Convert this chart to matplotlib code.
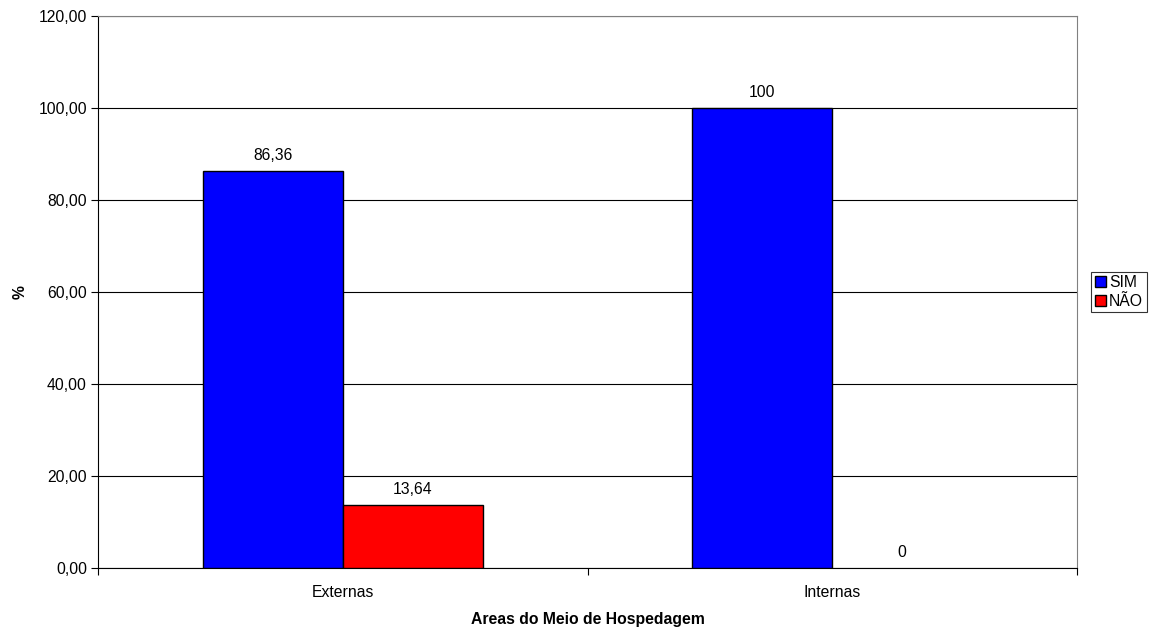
import matplotlib
matplotlib.use('Agg')
import matplotlib.pyplot as plt
import numpy as np

plt.rcParams['font.family'] = ['Liberation Sans', 'DejaVu Sans']

# data
categorias = ['Externas', 'Internas']
sim = [86.36, 100]
nao = [13.64, 0]
rotulos_sim = ['86,36', '100']
rotulos_nao = ['13,64', '0']
yticks = [0, 20, 40, 60, 80, 100, 120]

fs = 11.3

fig = plt.figure(figsize=(11.49, 6.31), dpi=100)
ax = fig.add_axes([98 / 1149, 1 - 568 / 631, (1077 - 98) / 1149, (568 - 16) / 631])

x = np.arange(len(categorias)) + 0.5
w = 0.286

b1 = ax.bar(x - w / 2, sim, w, color='#0000ff', edgecolor='black', linewidth=1, label='SIM', zorder=3)
b2 = ax.bar(x + w / 2, nao, w, color='#ff0000', edgecolor='black', linewidth=1, label='NÃO', zorder=3)

# empty bars get no outline
for rect in list(b1) + list(b2):
    if rect.get_height() == 0:
        rect.set_linewidth(0)

# value labels above bars
for rect, txt in zip(b1, rotulos_sim):
    ax.text(rect.get_x() + rect.get_width() / 2, rect.get_height() + 1.7, txt,
            ha='center', va='bottom', fontsize=fs)
for rect, txt in zip(b2, rotulos_nao):
    ax.text(rect.get_x() + rect.get_width() / 2, rect.get_height() + 1.7, txt,
            ha='center', va='bottom', fontsize=fs)

ax.set_xlim(0, 2)
ax.set_ylim(0, 120)
ax.set_yticks(yticks)
ax.set_yticklabels(['%d,00' % v for v in yticks], fontsize=fs)
ax.yaxis.grid(True, color='black', linewidth=0.8, zorder=0)
ax.set_axisbelow(True)

# category boundaries carry the ticks, names sit in the middle
ax.set_xticks([0, 1, 2])
ax.set_xticklabels([])
ax.set_xticks(x, minor=True)
ax.set_xticklabels(categorias, minor=True, fontsize=fs)
ax.tick_params(axis='x', which='minor', length=0, pad=12)
ax.tick_params(axis='x', which='major', length=5, direction='out')
ax.tick_params(axis='y', length=5, direction='out', pad=3)

ax.spines['left'].set_color('black')
ax.spines['bottom'].set_color('black')
ax.spines['top'].set_color('#808080')
ax.spines['right'].set_color('#808080')

ax.set_xlabel('Areas do Meio de Hospedagem', fontsize=fs, fontweight='bold', labelpad=9)
ax.set_ylabel('%', fontsize=fs, fontweight='bold', labelpad=8)

leg = ax.legend(loc='center left', bbox_to_anchor=(1.0143, 0.5), fontsize=fs,
                frameon=True, fancybox=False, edgecolor='black',
                handlelength=0.7, handleheight=0.7, handletextpad=0.2,
                borderpad=0.25, labelspacing=0.2, borderaxespad=0)
leg.get_frame().set_linewidth(0.8)

fig.savefig('out.png', dpi=100)
